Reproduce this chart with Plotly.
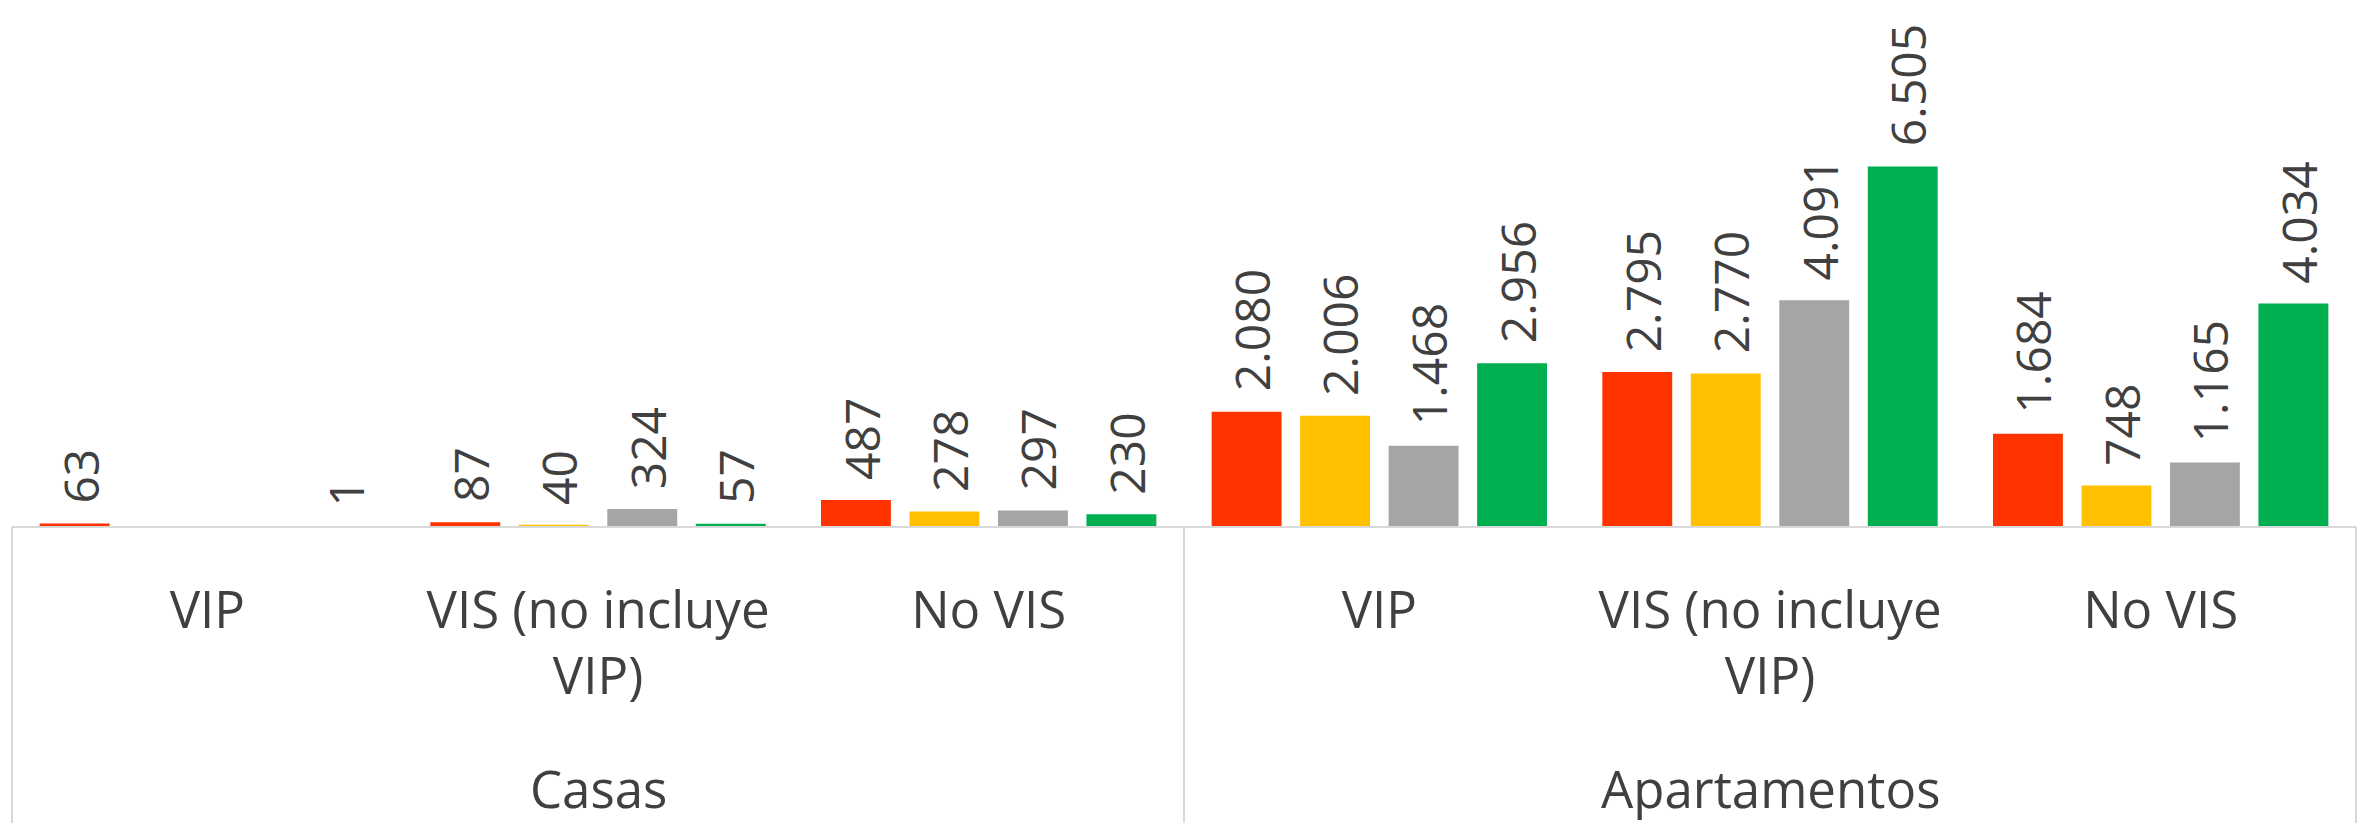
import plotly.graph_objects as go

# Categorías del eje (dos niveles: tipo de vivienda y segmento)
tipos = ["Casas", "Apartamentos"]
segmentos = ["VIP", "VIS (no incluye<br>VIP)", "No VIS"]
posiciones = [0, 1, 2, 3, 4, 5]
etiquetas_eje = segmentos + segmentos

# Valores de cada serie (Casas: VIP, VIS, No VIS; Apartamentos: VIP, VIS, No VIS)
serie_roja = [63, 87, 487, 2080, 2795, 1684]
serie_amarilla = [None, 40, 278, 2006, 2770, 748]
serie_gris = [None, 324, 297, 1468, 4091, 1165]
serie_verde = [1, 57, 230, 2956, 6505, 4034]

series = [serie_roja, serie_amarilla, serie_gris, serie_verde]
nombres = ["Serie 1", "Serie 2", "Serie 3", "Serie 4"]
colores = ["#FF3300", "#FFC000", "#A5A5A5", "#00B050"]

TEXTO = "#404040"
LINEA = "#D9D9D9"
FUENTE = "Open Sans"
BARGAP = 0.094


def formato(v):
    return f"{v:,}".replace(",", ".")


fig = go.Figure()
for nombre, valores, color in zip(nombres, series, colores):
    fig.add_trace(go.Bar(
        x=posiciones,
        y=valores,
        name=nombre,
        marker=dict(color=color, line=dict(width=0)),
        showlegend=False,
        hoverinfo="skip",
    ))

# Etiquetas de datos giradas sobre cada barra
n = len(series)
ancho_slot = (1 - BARGAP) / n
anotaciones = []
for j, valores in enumerate(series):
    for i, v in zip(posiciones, valores):
        if v is None:
            continue
        anotaciones.append(dict(
            x=i + (j - (n - 1) / 2) * ancho_slot,
            y=v,
            xref="x", yref="y",
            text=formato(v),
            textangle=-90,
            showarrow=False,
            xanchor="center", yanchor="bottom",
            yshift=18, xshift=5,
            font=dict(family=FUENTE, size=48, color=TEXTO),
        ))

# Etiquetas del nivel superior del eje
for k, tipo in enumerate(tipos):
    anotaciones.append(dict(
        x=0.25 + 0.5 * k, y=-0.673,
        xref="paper", yref="paper",
        text=tipo, showarrow=False,
        xanchor="center", yanchor="middle",
        font=dict(family=FUENTE, size=51, color=TEXTO),
    ))

# Línea base y líneas divisorias del eje de categorías
lineas = [dict(
    type="line", xref="paper", yref="paper",
    x0=0, x1=1, y0=0, y1=0,
    line=dict(color=LINEA, width=2),
    layer="above",
)]
for xp in [0, 0.5, 1]:
    lineas.append(dict(
        type="line", xref="paper", yref="paper",
        x0=xp, x1=xp, y0=0, y1=-0.77,
        line=dict(color=LINEA, width=2),
    ))

fig.update_layout(
    width=2367, height=823,
    autosize=False,
    margin=dict(l=12, r=11, t=139, b=296, pad=0),
    paper_bgcolor="white",
    plot_bgcolor="white",
    barmode="group",
    bargap=BARGAP,
    bargroupgap=0.21,
    font=dict(family=FUENTE, color=TEXTO),
    annotations=anotaciones,
    shapes=lineas,
    xaxis=dict(
        range=[-0.5, 5.5],
        tickmode="array",
        tickvals=posiciones,
        ticktext=etiquetas_eje,
        tickfont=dict(family=FUENTE, size=51, color=TEXTO),
        ticks="",
        ticklabelstandoff=49,
        showline=False,
        showgrid=False,
        zeroline=False,
        automargin=False,
        fixedrange=True,
    ),
    yaxis=dict(
        range=[0, 7000],
        visible=False,
        showgrid=False,
        zeroline=False,
        fixedrange=True,
    ),
)

fig.write_html("out.html")
